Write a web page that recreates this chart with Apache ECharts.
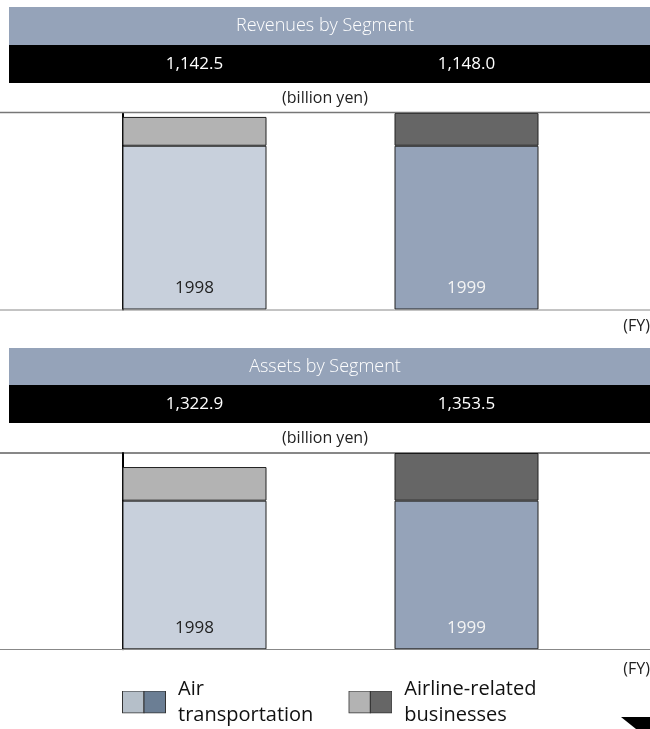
<!DOCTYPE html>
<html>
<head>
<meta charset="utf-8">
<script src="https://cdn.jsdelivr.net/npm/echarts@6/dist/echarts.min.js"></script>
<style>
html,body{margin:0;padding:0;background:#fff;}
#chart{width:650px;height:729px;}
</style>
</head>
<body>
<div id="chart"></div>
<script>
// ---- data ----
const categories = ['1998', '1999'];
const segmentNames = ['Air transportation', 'Airline-related businesses'];
const panelTitles = ['Revenues by Segment', 'Assets by Segment'];
const revenueAir = [1000, 1000];
const revenueRelated = [176, 200];
const revenueTotals = ['1,142.5', '1,148.0'];
const assetAir = [1060, 1060];
const assetRelated = [240, 340];
const assetTotals = ['1,322.9', '1,353.5'];
const unitText = '(billion yen)';
const fyText = '(FY)';

// ---- styles ----
const FONT = '"Open Sans"';
const airColors = ['#c8d0dc', '#95a3b9'];
const relatedColors = ['#b3b3b3', '#666666'];
const yearLabelColors = ['#222222', '#f4f4f4'];
const slate = '#95a3b9';

function swatch(c1, c2) {
  const svg = "<svg xmlns='http://www.w3.org/2000/svg' width='44' height='23'>" +
    "<rect x='0.5' y='0.5' width='21.5' height='22' fill='" + c1 + "' stroke='#333'/>" +
    "<rect x='22' y='0.5' width='21.5' height='22' fill='" + c2 + "' stroke='#333'/></svg>";
  return 'image://data:image/svg+xml;charset=utf-8,' + encodeURIComponent(svg);
}

const chart = echarts.init(document.getElementById('chart'), null, {renderer: 'canvas'});

const panels = [
  {top: 113, bottom: 729 - 309.5, max: 1200, air: revenueAir, rel: revenueRelated, totals: revenueTotals},
  {top: 453, bottom: 729 - 649.3, max: 1400, air: assetAir, rel: assetRelated, totals: assetTotals}
];

const grids = [], xAxes = [], yAxes = [], series = [];
panels.forEach((p, i) => {
  grids.push({left: 58.5, right: 47.5, top: p.top, bottom: p.bottom, containLabel: false});
  xAxes.push({
    type: 'category', gridIndex: i, data: categories, position: 'bottom', z: 10,
    axisLine: {show: false}, axisTick: {show: false},
    axisLabel: {
      inside: true, margin: 21, verticalAlign: 'middle', fontFamily: FONT, fontSize: 17, fontWeight: 400,
      color: (v, idx) => yearLabelColors[idx]
    }
  });
  xAxes.push({
    type: 'category', gridIndex: i, data: p.totals, position: 'top', offset: 49,
    axisLine: {show: false}, axisTick: {show: false},
    axisLabel: {margin: 0, verticalAlign: 'middle', color: '#ffffff', fontFamily: FONT, fontSize: 17, fontWeight: 400}
  });
  yAxes.push({
    type: 'value', gridIndex: i, min: 0, max: p.max, offset: -64,
    axisLine: {show: true, lineStyle: {color: '#000', width: 2}},
    axisTick: {show: false}, axisLabel: {show: false}, splitLine: {show: false}
  });
  series.push({
    name: segmentNames[0], type: 'bar', stack: 's' + i, xAxisIndex: i * 2, yAxisIndex: i,
    data: p.air, barWidth: 144,
    itemStyle: {color: (q) => airColors[q.dataIndex], borderColor: '#222', borderWidth: 1},
    emphasis: {disabled: true}
  });
  series.push({
    name: segmentNames[1], type: 'bar', stack: 's' + i, xAxisIndex: i * 2, yAxisIndex: i,
    data: p.rel, barWidth: 144,
    itemStyle: {color: (q) => relatedColors[q.dataIndex], borderColor: '#222', borderWidth: 1},
    emphasis: {disabled: true}
  });
});

const titleStyle = {fontFamily: FONT, fontSize: 18, color: '#ffffff', fontWeight: 300, lineHeight: 22};
const smallStyle = {fontFamily: FONT, fontSize: 16, color: '#222', fontWeight: 400, lineHeight: 20};

const option = {
  animation: false,
  backgroundColor: '#ffffff',
  title: [
    {text: panelTitles[0], left: 'center', top: 15, padding: 0, textStyle: titleStyle},
    {text: panelTitles[1], left: 'center', top: 355.5, padding: 0, textStyle: titleStyle},
    {text: unitText, left: 'center', top: 88, padding: 0, textStyle: smallStyle},
    {text: unitText, left: 'center', top: 428, padding: 0, textStyle: smallStyle},
    {text: fyText, right: 0, top: 316, padding: 0, textStyle: smallStyle},
    {text: fyText, right: 0, top: 659, padding: 0, textStyle: smallStyle}
  ],
  legend: {
    left: 122, top: 676, padding: 0, itemGap: 35, itemWidth: 44, itemHeight: 23,
    selectedMode: false,
    data: [
      {name: segmentNames[0], icon: swatch('#b5bfc9', '#6b7e94')},
      {name: segmentNames[1], icon: swatch('#b3b3b3', '#666666')}
    ],
    formatter: (n) => n.replace(' ', '\n'),
    textStyle: {fontFamily: FONT, fontSize: 20, color: '#111', lineHeight: 26, padding: [0, 0, 0, 7]}
  },
  graphic: [
    {type: 'rect', shape: {x: 9, y: 7, width: 641, height: 38}, style: {fill: slate}, z: -1},
    {type: 'rect', shape: {x: 9, y: 45, width: 641, height: 38}, style: {fill: '#000'}, z: -1},
    {type: 'rect', shape: {x: 9, y: 348, width: 641, height: 37}, style: {fill: slate}, z: -1},
    {type: 'rect', shape: {x: 9, y: 385, width: 641, height: 38}, style: {fill: '#000'}, z: -1},
    {type: 'line', shape: {x1: 0, y1: 112.5, x2: 650, y2: 112.5}, style: {stroke: '#777', lineWidth: 1.5}, z: 5},
    {type: 'line', shape: {x1: 0, y1: 310, x2: 650, y2: 310}, style: {stroke: '#888', lineWidth: 1}, z: 5},
    {type: 'line', shape: {x1: 0, y1: 453, x2: 650, y2: 453}, style: {stroke: '#111', lineWidth: 1}, z: 5},
    {type: 'line', shape: {x1: 0, y1: 649.5, x2: 650, y2: 649.5}, style: {stroke: '#888', lineWidth: 1}, z: 5},
    {type: 'polygon', shape: {points: [[621, 717], [650, 717], [650, 729], [636, 729]]}, style: {fill: '#000'}}
  ],
  grid: grids,
  xAxis: xAxes,
  yAxis: yAxes,
  series: series
};
chart.setOption(option);
</script>
</body>
</html>
